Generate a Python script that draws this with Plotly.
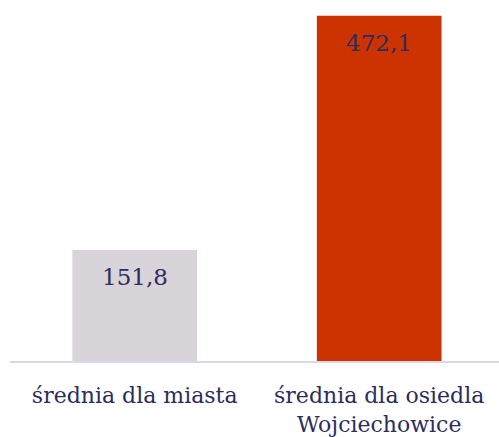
import plotly.graph_objects as go

categories = ["średnia dla miasta", "średnia dla osiedla<br>Wojciechowice"]
values = [151.8, 472.1]
colors = ["#D9D4DA", "#CC3300"]

TEXT = "#2B2D5C"
FONT = "DejaVu Serif"

fig = go.Figure(go.Bar(
    x=categories, y=values, marker=dict(color=colors, line=dict(width=0)),
    hoverinfo="skip",
))

for c, v in zip(categories, values):
    fig.add_annotation(x=c, y=v, text=f"{v:.1f}".replace(".", ","), showarrow=False,
                       yanchor="top", yshift=-12, font=dict(family=FONT, size=23, color=TEXT))

fig.update_layout(
    width=499, height=437,
    margin=dict(l=10, r=0, t=10, b=76),
    paper_bgcolor="white", plot_bgcolor="white",
    bargap=0.49, showlegend=False,
    font=dict(family=FONT, size=22, color=TEXT),
    xaxis=dict(type="category", range=[-0.51, 1.49], showline=True, linecolor="#D9D9EA",
               linewidth=2, ticks="outside", ticklen=14, tickcolor="rgba(0,0,0,0)",
               automargin=False, showgrid=False,
               tickfont=dict(family=FONT, size=22, color=TEXT)),
    yaxis=dict(range=[0, 480], visible=False, showgrid=False, zeroline=False,
               automargin=False),
)

fig.write_html("out.html", config={"displayModeBar": False},
               post_script="document.body.style.margin='0';")
